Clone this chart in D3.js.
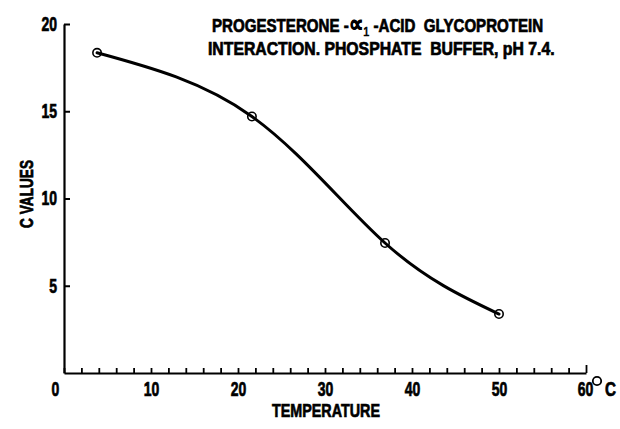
<!DOCTYPE html>
<html>
<head>
<meta charset="utf-8">
<script src="https://cdn.jsdelivr.net/npm/d3@7"></script>
<style>
  html, body { margin: 0; padding: 0; background: #fff; }
  svg { display: block; }
  text { font-family: "Liberation Sans", Arial, sans-serif; font-weight: bold; fill: #000; stroke: #000; stroke-width: 0.7px; }
</style>
</head>
<body>
<svg id="chart" width="620" height="429"></svg>
<script>
// Measured C values against temperature (°C)
const temperature = [3.8, 21.6, 36.9, 50.0];
const cValues = [18.35, 14.7, 7.45, 3.38];

// Axis ticks
const xLabelTicks = [0, 10, 20, 30, 40, 50, 60];
const xMinorTicks = d3.range(0, 61, 2);
const yTicks = [5, 10, 15, 20];

// Title lines
const titleLine1 = ["PROGESTERONE -", "\u221D", "1", " -ACID  GLYCOPROTEIN"];
const titleLine2 = "INTERACTION. PHOSPHATE  BUFFER, pH 7.4.";
const xTitle = "TEMPERATURE";
const yTitle = "C VALUES";

const svg = d3.select("#chart");

const x = d3.scaleLinear().domain([0, 60]).range([64, 586]);
const y = d3.scaleLinear().domain([0, 20]).range([373, 24]);

// Squeeze a text element horizontally (around its anchor x) to a given width
function fitWidth(sel, width, x0) {
  const n = sel.node().getComputedTextLength();
  const s = width / n;
  sel.attr("transform", `translate(${x0},0) scale(${s},1) translate(${-x0},0)`);
}
const condense = 0.7;

// Y axis: ticks point inward (to the right)
const yAxis = svg.append("g")
  .attr("transform", `translate(${x(0)},0)`)
  .call(d3.axisLeft(y).tickValues(yTicks).tickSizeInner(-6).tickSizeOuter(0).tickPadding(7));
yAxis.select(".domain").attr("stroke", "#000").attr("stroke-width", 2.2);
yAxis.selectAll(".tick line").attr("stroke", "#000").attr("stroke-width", 2);
yAxis.selectAll(".tick text")
  .style("font-size", "20px")
  .attr("transform", `translate(-7,0) scale(${condense},1) translate(7,0)`);

// X axis: minor ticks every 2 degrees, pointing up
const xMinor = svg.append("g")
  .attr("transform", `translate(0,${y(0)})`)
  .call(d3.axisBottom(x).tickValues(xMinorTicks).tickSizeInner(-5).tickSizeOuter(0).tickFormat(""));
xMinor.select(".domain").attr("stroke", "#000").attr("stroke-width", 2.2);
xMinor.selectAll(".tick line").attr("stroke", "#000").attr("stroke-width", 1.8);
xMinor.selectAll(".tick").filter(d => d === 60).select("line").attr("y2", -8);

// X axis labels at every 10 degrees
const xLabels = svg.append("g")
  .attr("transform", `translate(0,${y(0)})`)
  .call(d3.axisBottom(x).tickValues(xLabelTicks).tickSize(0).tickPadding(9));
xLabels.select(".domain").remove();
xLabels.selectAll(".tick text")
  .style("font-size", "20px")
  .attr("x", d => d === 0 ? -9 : (d === 60 ? -1 : 0))
  .attr("transform", function () {
    const x0 = +d3.select(this).attr("x");
    return `translate(${x0},0) scale(${condense},1) translate(${-x0},0)`;
  });

// Degree-Celsius unit after the last label
svg.append("circle")
  .attr("cx", x(60) + 11)
  .attr("cy", y(0) + 8)
  .attr("r", 4.2)
  .attr("fill", "none")
  .attr("stroke", "#000")
  .attr("stroke-width", 1.8);
const unitC = svg.append("text")
  .attr("x", x(60) + 19)
  .attr("y", y(0) + 23)
  .style("font-size", "20px")
  .text("C");
fitWidth(unitC, 11, x(60) + 19);

// Axis titles
const xt = svg.append("text")
  .attr("x", 326)
  .attr("y", 417)
  .attr("text-anchor", "middle")
  .style("font-size", "19px")
  .text(xTitle);
fitWidth(xt, 108, 326);

const yt = svg.append("text")
  .attr("text-anchor", "middle")
  .style("font-size", "18px")
  .text(yTitle);
const ytLen = yt.node().getComputedTextLength();
yt.attr("transform", `translate(33,194) rotate(-90) scale(${68 / ytLen},1)`);

// Title block
const t1 = svg.append("text")
  .attr("x", 212)
  .attr("y", 32)
  .style("font-size", "18px")
  .style("white-space", "pre");
t1.append("tspan").text(titleLine1[0]);
t1.append("tspan").text(titleLine1[1]).style("font-size", "24px");
t1.append("tspan").text(titleLine1[2]).attr("dy", 4).style("font-size", "13px").style("font-weight", "normal");
t1.append("tspan").text(titleLine1[3]).attr("dy", -4);
fitWidth(t1, 331, 212);

const t2 = svg.append("text")
  .attr("x", 208)
  .attr("y", 55)
  .style("font-size", "18px")
  .style("white-space", "pre")
  .text(titleLine2);
fitWidth(t2, 347, 208);

// Smooth curve through the measurements
const pts = temperature.map((t, i) => [t, cValues[i]]);
svg.append("path")
  .datum(pts)
  .attr("fill", "none")
  .attr("stroke", "#000")
  .attr("stroke-width", 3)
  .attr("stroke-linecap", "round")
  .attr("d", d3.line().x(d => x(d[0])).y(d => y(d[1])).curve(d3.curveNatural));

// Measurement markers
svg.append("g")
  .selectAll("circle")
  .data(pts)
  .join("circle")
  .attr("cx", d => x(d[0]))
  .attr("cy", d => y(d[1]))
  .attr("r", 4.2)
  .attr("fill", "none")
  .attr("stroke", "#000")
  .attr("stroke-width", 1.6);
</script>
</body>
</html>
